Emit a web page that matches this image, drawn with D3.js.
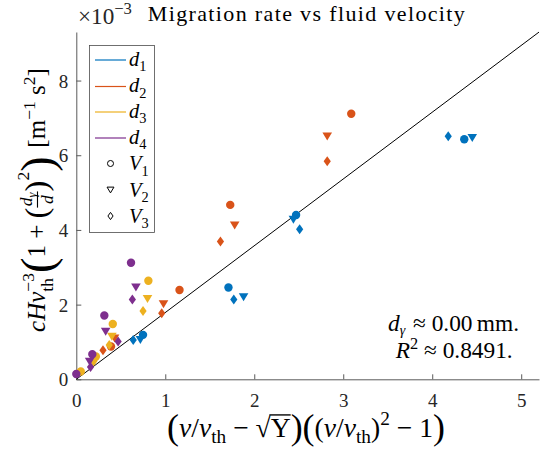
<!DOCTYPE html>
<html><head><meta charset="utf-8">
<script src="https://cdn.jsdelivr.net/npm/d3@7"></script>
<style>
body{margin:0;background:#fff}
svg{display:block;font-family:"Liberation Serif","DejaVu Serif",serif}
svg text{white-space:pre}
</style>
</head><body><div id="chart"></div>
<script>
// ---------------- data ----------------
const xTicks = [0, 1, 2, 3, 4, 5];
const yTicks = [0, 2, 4, 6, 8];
const seriesNames = ["1", "2", "3", "4"];      // d_1 .. d_4
const markerNames = ["1", "2", "3"];           // V_1 .. V_3
const seriesColors = ["#0072BD", "#D95319", "#EDB120", "#7E2F8E"];
const markerShapes = ["circle", "triangle", "diamond"];
// y values in units of 1e-3
const d1V1x = [0.75, 1.71, 2.47, 4.36], d1V1y = [1.19, 2.46, 4.40, 6.43];
const d1V2x = [0.72, 1.88, 2.44, 4.45], d1V2y = [1.05, 2.20, 4.27, 6.46];
const d1V3x = [0.64, 1.77, 2.51, 4.18], d1V3y = [1.05, 2.14, 4.02, 6.51];
const d2V1x = [0.39, 1.16, 1.73, 3.09], d2V1y = [0.88, 2.39, 4.67, 7.11];
const d2V2x = [0.43, 0.98, 1.78, 2.82], d2V2y = [1.09, 2.01, 4.12, 6.50];
const d2V3x = [0.30, 0.96, 1.62, 2.82], d2V3y = [0.78, 1.77, 3.69, 5.84];
const d3V1x = [0.05, 0.22, 0.41, 0.81], d3V1y = [0.21, 0.61, 1.48, 2.64];
const d3V2x = [0.19, 0.40, 0.80], d3V2y = [0.45, 1.14, 2.15];
const d3V3x = [0.20, 0.37, 0.75], d3V3y = [0.50, 0.92, 1.83];
const d4V1x = [0.00, 0.18, 0.315, 0.615], d4V1y = [0.14, 0.67, 1.71, 3.12];
const d4V2x = [0.15, 0.33, 0.67], d4V2y = [0.47, 1.27, 2.46];
const d4V3x = [0.16, 0.47, 0.63], d4V3y = [0.33, 1.01, 2.14];
const fitSlope = 1.788;
const xMax = 5.2, yMax = 9.3;
const titleText = "Migration rate vs fluid velocity";
const dGammaText = "0.00", r2Text = "0.8491";

const seriesData = [
  [[d1V1x, d1V1y], [d1V2x, d1V2y], [d1V3x, d1V3y]],
  [[d2V1x, d2V1y], [d2V2x, d2V2y], [d2V3x, d2V3y]],
  [[d3V1x, d3V1y], [d3V2x, d3V2y], [d3V3x, d3V3y]],
  [[d4V1x, d4V1y], [d4V2x, d4V2y], [d4V3x, d4V3y]]
];
const points = [];
seriesData.forEach((byV, di) => byV.forEach(([xs, ys], vi) =>
  xs.forEach((xv, k) => points.push({x: xv, y: ys[k], d: di, v: vi}))));

// ---------------- setup ----------------
const W = 540, H = 453;
const svg = d3.select("#chart").append("svg").attr("width", W).attr("height", H);
const x = d3.scaleLinear([0, xMax], [76.3, 539]);
const y = d3.scaleLinear([0, yMax], [379.3, 32]);
const axisColor = "#5a5a5a", textColor = "#262626";
const serif = '"Liberation Serif","DejaVu Serif",serif';

// math-ish text layout helper
function mathRow(parent, pieces, base) {
  const g = parent.append("g");
  let cx = 0;
  const put = (q, x0) => g.append("text").attr("x", x0).attr("y", (q.dy || 0) * base)
    .attr("font-size", (q.s || 1) * base).attr("font-style", q.it ? "italic" : "normal").text(q.t);
  pieces.forEach(p => {
    if (p.gap !== undefined) { cx += p.gap * base; return; }
    if (p.stack) {
      let w = 0;
      p.stack.forEach(q => { const e = put(q, cx); w = Math.max(w, e.node().getComputedTextLength()); });
      cx += w; return;
    }
    if (p.num) {
      const n = mathRow(g, p.num, base), d = mathRow(g, p.den, base);
      const fw = Math.max(n.w, d.w) + 0.1 * base;
      n.g.attr("transform", `translate(${cx + (fw - n.w) / 2},${p.numY * base})`);
      d.g.attr("transform", `translate(${cx + (fw - d.w) / 2},${p.denY * base})`);
      g.append("line").attr("x1", cx).attr("x2", cx + fw).attr("y1", p.barY * base).attr("y2", p.barY * base)
        .attr("stroke", "#000").attr("stroke-width", 0.045 * base);
      cx += fw; return;
    }
    const e = put(p, cx);
    const w = e.node().getComputedTextLength();
    if (p.over !== undefined) {
      g.append("line").attr("x1", cx - (p.overExt || 0) * base).attr("x2", cx + w)
        .attr("y1", p.over * base).attr("y2", p.over * base)
        .attr("stroke", "#000").attr("stroke-width", 0.05 * base);
    }
    cx += w;
  });
  return {g, w: cx};
}
function fitRow(parent, pieces, base, target) {
  const probe = mathRow(parent, pieces, base);
  const b2 = base * target / probe.w;
  probe.g.remove();
  return mathRow(parent, pieces, b2);
}

// ---------------- axes ----------------
const gx = svg.append("g").attr("transform", `translate(0,${y(0)})`)
  .call(d3.axisBottom(x).tickValues(xTicks).tickSizeInner(-5).tickSizeOuter(0).tickFormat(d3.format("d")));
const gy = svg.append("g").attr("transform", `translate(${x(0)},0)`)
  .call(d3.axisLeft(y).tickValues(yTicks).tickSizeInner(-5).tickSizeOuter(0).tickFormat(d3.format("d")));
[gx, gy].forEach(g => {
  g.attr("font-family", serif);
  g.select(".domain").attr("stroke", axisColor).attr("stroke-width", 1);
  g.selectAll(".tick line").attr("stroke", axisColor);
  g.selectAll(".tick text").style("font-family", serif).attr("font-size", 19).attr("fill", textColor);
});
gx.selectAll(".tick text").attr("y", 14).attr("dy", "0.71em");
gy.selectAll(".tick text").attr("x", -8).attr("dy", "0.34em");

// fit line
const xEnd = Math.min(xMax, yMax / fitSlope);
svg.append("line").attr("x1", x(0)).attr("y1", y(0)).attr("x2", x(xEnd)).attr("y2", y(fitSlope * xEnd))
  .attr("stroke", "#000").attr("stroke-width", 1);

// ---------------- markers ----------------
function shapePath(kind, cx, cy, sc) {
  if (kind === "circle") {
    const r = 4.2 * sc, p = d3.path();
    p.arc(cx, cy, r, 0, 2 * Math.PI); p.closePath(); return p.toString();
  }
  if (kind === "triangle") {
    const w = 9.6 * sc, h = 8 * sc;
    return `M${cx - w / 2},${cy - h / 2}L${cx + w / 2},${cy - h / 2}L${cx},${cy + h / 2}Z`;
  }
  const w = 7.2 * sc, h = 10 * sc;
  return `M${cx},${cy - h / 2}L${cx + w / 2},${cy}L${cx},${cy + h / 2}L${cx - w / 2},${cy}Z`;
}
svg.append("g").selectAll("path").data(points).join("path")
  .attr("d", p => shapePath(markerShapes[p.v], x(p.x), y(p.y), 1))
  .attr("fill", p => seriesColors[p.d]);

// ---------------- legend ----------------
const lg = svg.append("g");
lg.append("rect").attr("x", 89.5).attr("y", 45.5).attr("width", 65).attr("height", 187)
  .attr("fill", "#fff").attr("stroke", "#4d4d4d").attr("stroke-width", 0.8);
const legendRows = [60, 86.5, 112, 138, 163.5, 190, 216];
seriesNames.forEach((nm, i) => {
  const cy = legendRows[i];
  lg.append("line").attr("x1", 95).attr("x2", 126).attr("y1", cy).attr("y2", cy)
    .attr("stroke", seriesColors[i]).attr("stroke-width", 1.2);
  const r = mathRow(lg, [{t: "d", it: true}, {t: nm, s: 0.7, dy: 0.28}], 20.5);
  r.g.attr("transform", `translate(129,${cy + 5.5})`).attr("fill", "#000");
});
markerNames.forEach((nm, i) => {
  const cy = legendRows[4 + i];
  lg.append("path").attr("d", shapePath(markerShapes[i], 110.5, cy, 0.72))
    .attr("fill", "none").attr("stroke", "#000").attr("stroke-width", 1);
  const r = mathRow(lg, [{t: "V", it: true}, {t: nm, s: 0.7, dy: 0.28}], 20.5);
  r.g.attr("transform", `translate(129,${cy + 6.5})`).attr("fill", "#000");
});

// ---------------- texts ----------------
const title = svg.append("text").attr("x", 307).attr("y", 20.5).attr("text-anchor", "middle")
  .attr("font-size", 22).attr("fill", "#000").text(titleText);
const tw = title.node().getComputedTextLength();
title.attr("letter-spacing", Math.max(0, (317 - tw) / (titleText.length - 1)));

const ex = fitRow(svg, [{t: "×10"}, {t: "−3", s: 0.72, dy: -0.42}], 18, 54);
ex.g.attr("transform", "translate(78,23.5)").attr("fill", textColor);

// x label
const xl = fitRow(svg, [
  {t: "(", s: 1.3, dy: 0.08}, {t: "v", it: true}, {t: "/"}, {t: "v", it: true}, {t: "th", s: 0.7, dy: 0.22},
  {t: " − "}, {t: "√"}, {t: "Υ", over: -0.8, overExt: 0.05}, {t: ")", s: 1.3, dy: 0.08},
  {t: "(", s: 1.3, dy: 0.08}, {t: "("}, {t: "v", it: true}, {t: "/"}, {t: "v", it: true}, {t: "th", s: 0.7, dy: 0.22},
  {t: ")"}, {t: "2", s: 0.7, dy: -0.45}, {t: " − 1"}, {t: ")", s: 1.3, dy: 0.08}
], 20, 278);
xl.g.attr("transform", `translate(${306 - xl.w / 2},437)`).attr("fill", "#000");

// y label
const yl = fitRow(svg, [
  {t: "cHv", it: true}, {stack: [{t: "−3", s: 0.7, dy: -0.45}, {t: "th", s: 0.7, dy: 0.3}]},
  {t: "(", s: 1.85, dy: 0.3}, {t: "1 + "}, {t: "(", s: 1.3, dy: 0.08},
  {num: [{t: "d", it: true, s: 0.7}, {t: "γ", it: true, s: 0.5, dy: 0.15}], den: [{t: "d", it: true, s: 0.7}],
   numY: -0.5, denY: 0.3, barY: -0.3},
  {t: ")", s: 1.3, dy: 0.08}, {t: "2", s: 0.7, dy: -0.62}, {t: ")", s: 1.85, dy: 0.3},
  {gap: 0.35}, {t: "[m"}, {t: "−1", s: 0.7, dy: -0.42}, {t: " s"}, {t: "2", s: 0.7, dy: -0.42}, {t: "]"}
], 20, 264);
yl.g.attr("transform", `translate(45,${200 + yl.w / 2}) rotate(-90)`).attr("fill", "#000");

// annotations
const a1 = fitRow(svg, [{t: "d", it: true}, {t: "γ", it: true, s: 0.6, dy: 0.15}, {gap: 0.08}, {t: " ≈ " + dGammaText}, {gap: 0.18}, {t: "mm."}], 18, 131);
a1.g.attr("transform", `translate(${519 - a1.w},331)`).attr("fill", "#000");
const a2 = fitRow(svg, [{t: "R", it: true}, {t: "2", s: 0.7, dy: -0.4}, {t: " ≈ " + r2Text + "."}], 18, 117);
a2.g.attr("transform", `translate(${512.7 - a2.w},358)`).attr("fill", "#000");
</script>
</body></html>
